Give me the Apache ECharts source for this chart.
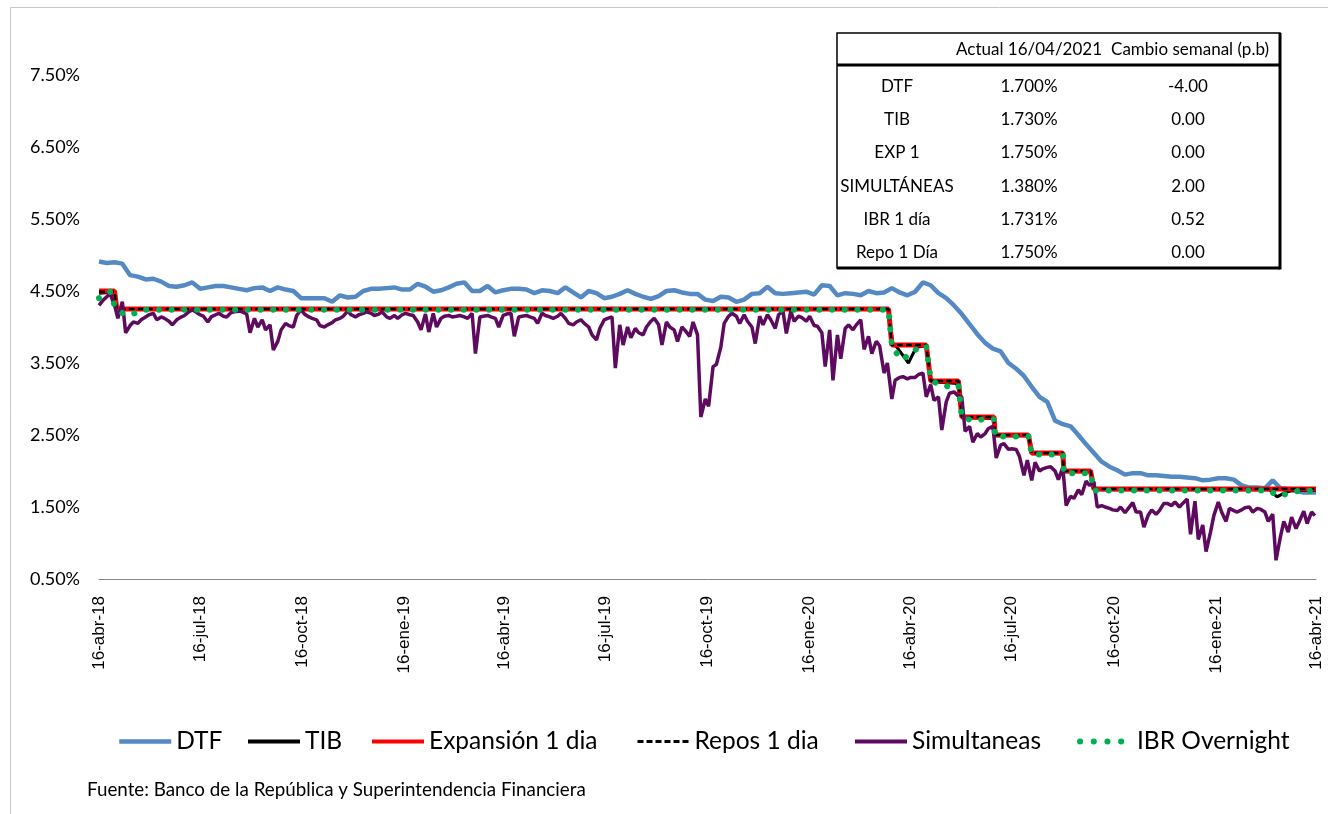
<!DOCTYPE html>
<html><head><meta charset="utf-8">
<script src="https://cdn.jsdelivr.net/npm/echarts@6/dist/echarts.min.js"></script>
<style>html,body{margin:0;padding:0;background:#fff;}#c{width:1328px;height:814px;}</style>
</head><body><div id="c"></div>
<script>
// ---------- DATA ----------
const startDate = '2018-04-16';
const endDate = '2021-04-16';
const xTickDates = ['2018-04-16','2018-07-16','2018-10-16','2019-01-16','2019-04-16','2019-07-16','2019-10-16','2020-01-16','2020-04-16','2020-07-16','2020-10-16','2021-01-16','2021-04-16'];
const monthNames = ['ene','feb','mar','abr','may','jun','jul','ago','sep','oct','nov','dic'];
const seriesNames = ['DTF','TIB','Expansión 1 dia','Repos 1 dia','Simultaneas','IBR Overnight'];

// DTF: weekly (Mondays from 2018-04-16), last value = 2021-04-16
const dtfValues = [4.91,4.89,4.90,4.88,4.72,4.70,4.66,4.67,4.63,4.57,
 4.56,4.58,4.62,4.53,4.55,4.57,4.57,4.55,4.53,4.51,
 4.54,4.55,4.50,4.55,4.52,4.50,4.40,4.40,4.40,4.40,
 4.35,4.44,4.41,4.42,4.50,4.53,4.53,4.54,4.55,4.52,
 4.52,4.60,4.56,4.49,4.51,4.55,4.60,4.62,4.50,4.50,
 4.57,4.48,4.51,4.53,4.53,4.52,4.47,4.51,4.50,4.47,
 4.55,4.48,4.41,4.50,4.47,4.40,4.42,4.46,4.51,4.46,
 4.42,4.39,4.43,4.50,4.51,4.48,4.46,4.46,4.38,4.36,
 4.42,4.41,4.35,4.38,4.46,4.47,4.56,4.47,4.46,4.47,
 4.48,4.49,4.45,4.58,4.57,4.44,4.47,4.46,4.44,4.50,
 4.47,4.48,4.54,4.48,4.44,4.49,4.62,4.58,4.47,4.40,
 4.30,4.18,4.04,3.90,3.78,3.70,3.66,3.50,3.42,3.32,
 3.17,3.03,2.96,2.70,2.65,2.62,2.50,2.37,2.25,2.13,
 2.06,2.01,1.95,1.97,1.97,1.94,1.94,1.93,1.92,1.92,
 1.91,1.90,1.87,1.88,1.90,1.90,1.88,1.80,1.77,1.77,
 1.76,1.87,1.76,1.75,1.72,1.70,1.70,1.70];

// Simultaneas: twice a week (Monday and Thursday)
const simValues = [4.30,4.36,4.42,4.46,4.30,4.12,4.35,3.92,4.02,4.07,
 4.05,4.10,4.14,4.17,4.19,4.10,4.14,4.12,4.08,4.03,
 4.10,4.13,4.16,4.20,4.24,4.21,4.17,4.15,4.07,4.14,
 4.17,4.19,4.15,4.14,4.20,4.21,4.22,4.21,4.18,3.92,
 4.12,4.00,4.10,3.96,4.03,3.68,3.80,3.96,4.05,4.02,
 4.00,4.16,4.24,4.18,4.14,4.12,4.10,4.02,4.00,4.03,
 4.06,4.10,4.12,4.15,4.22,4.17,4.14,4.17,4.19,4.21,
 4.19,4.16,4.18,4.21,4.14,4.12,4.16,4.12,4.17,4.19,
 4.17,4.16,4.07,3.96,4.18,3.93,4.19,4.00,4.12,4.15,
 4.16,4.14,4.15,4.16,4.14,4.12,4.19,3.63,4.14,4.15,
 4.16,4.14,4.12,4.00,4.16,4.18,4.19,3.87,4.14,4.15,
 4.16,4.14,4.12,4.05,4.19,4.16,4.14,4.12,4.15,4.19,
 4.12,4.05,4.03,4.07,4.10,4.05,4.00,3.89,3.82,3.98,
 4.10,4.12,4.14,3.43,4.03,3.75,4.00,3.85,3.98,3.92,
 3.89,4.00,4.08,4.12,4.03,3.75,4.07,4.00,3.96,3.80,
 4.00,3.95,3.87,4.07,3.89,2.75,3.00,2.90,3.45,3.48,
 3.72,4.05,4.15,4.19,4.15,4.05,4.17,4.08,4.00,3.77,
 4.15,4.03,4.17,4.10,3.98,4.17,4.22,3.91,4.22,4.08,
 4.15,4.13,4.08,4.15,4.02,4.01,3.92,3.45,3.96,3.26,
 3.89,3.56,3.98,4.03,3.96,4.03,4.10,3.69,3.87,3.63,
 3.80,3.74,3.36,3.50,3.00,3.26,3.30,3.31,3.28,3.30,
 3.30,3.34,3.36,3.03,3.20,2.98,3.03,2.57,2.96,3.08,
 3.10,3.05,3.03,2.55,2.62,2.40,2.52,2.47,2.52,2.59,
 2.62,2.18,2.36,2.38,2.30,2.31,2.30,2.20,1.94,2.15,
 1.87,2.12,2.00,2.03,2.05,2.06,2.00,1.88,2.05,1.52,
 1.65,1.62,1.74,1.67,1.86,1.80,1.85,1.50,1.52,1.50,
 1.48,1.46,1.45,1.50,1.42,1.48,1.56,1.43,1.43,1.22,
 1.39,1.46,1.40,1.45,1.55,1.55,1.52,1.57,1.50,1.55,
 1.61,1.12,1.58,1.05,1.25,0.88,1.15,1.38,1.57,1.43,
 1.30,1.48,1.45,1.43,1.46,1.49,1.50,1.43,1.48,1.47,
 1.43,1.30,1.40,0.76,1.09,1.30,1.15,1.36,1.20,1.30,
 1.44,1.27,1.43,1.38];

// TIB: change points
const tibDates = ['2018-04-16','2018-04-26','2018-05-03','2020-03-27','2020-03-31','2020-04-03','2020-04-14','2020-04-21','2020-04-30','2020-05-04','2020-05-25','2020-05-29','2020-06-01','2020-06-30','2020-07-01','2020-07-31','2020-08-03','2020-08-31','2020-09-01','2020-09-25','2020-09-28','2021-03-05','2021-03-12','2021-03-19','2021-03-26','2021-04-16'];
const tibValues = [4.47,4.48,4.25,4.25,3.75,3.73,3.50,3.72,3.74,3.24,3.22,3.20,2.74,2.73,2.49,2.49,2.24,2.24,1.99,1.99,1.74,1.74,1.64,1.70,1.73,1.73];

// Expansión 1 dia: change points
const expDates = ['2018-04-16','2018-04-30','2018-05-02','2020-03-27','2020-03-30','2020-04-30','2020-05-04','2020-05-29','2020-06-01','2020-06-30','2020-07-01','2020-07-31','2020-08-03','2020-08-31','2020-09-01','2020-09-25','2020-09-28','2021-04-16'];
const expValues = [4.50,4.50,4.25,4.25,3.75,3.75,3.25,3.25,2.75,2.75,2.50,2.50,2.25,2.25,2.00,2.00,1.75,1.75];

// Repos 1 dia: change points
const repoDates = ['2018-04-16','2018-04-30','2018-05-02','2020-03-27','2020-03-30','2020-04-30','2020-05-04','2020-05-29','2020-06-01','2020-06-30','2020-07-01','2020-07-31','2020-08-03','2020-08-31','2020-09-01','2020-09-25','2020-09-28','2021-04-16'];
const repoValues = [4.49,4.49,4.25,4.25,3.75,3.75,3.25,3.25,2.75,2.75,2.50,2.50,2.25,2.25,2.00,2.00,1.75,1.75];

// IBR Overnight: change points
const ibrDates = ['2018-04-16','2018-04-26','2018-04-30','2018-05-08','2018-05-15','2018-05-25','2020-03-27','2020-03-30','2020-04-02','2020-04-07','2020-04-10','2020-04-14','2020-04-21','2020-04-27','2020-04-30','2020-05-04','2020-05-12','2020-05-22','2020-05-29','2020-06-01','2020-06-11','2020-06-22','2020-06-30','2020-07-01','2020-07-31','2020-08-03','2020-08-31','2020-09-01','2020-09-25','2020-09-28','2021-03-05','2021-03-12','2021-03-22','2021-03-30','2021-04-16'];
const ibrValues = [4.40,4.49,4.30,4.18,4.17,4.24,4.24,3.75,3.66,3.57,3.55,3.63,3.69,3.73,3.74,3.27,3.19,3.17,3.19,2.75,2.70,2.72,2.72,2.48,2.48,2.23,2.23,1.97,1.97,1.73,1.73,1.66,1.68,1.72,1.73];

// Table
const tableHeader = ['', 'Actual 16/04/2021', 'Cambio semanal (p.b)'];
const tableRows = ['DTF','TIB','EXP 1','SIMULTÁNEAS','IBR 1 día','Repo 1 Día'];
const tableActual = ['1.700%','1.730%','1.750%','1.380%','1.731%','1.750%'];
const tableChange = ['-4.00','0.00','0.00','2.00','0.52','0.00'];
const sourceNote = 'Fuente: Banco de la República y Superintendencia Financiera';

// ---------- BUILD ----------
function ts(s){const p=s.split('-').map(Number);return new Date(p[0],p[1]-1,p[2]).getTime();}
function tsAdd(s,n){const p=s.split('-').map(Number);return new Date(p[0],p[1]-1,p[2]+n).getTime();}
const dtfData = dtfValues.map((v,i)=>[i<dtfValues.length-1?tsAdd(startDate,7*i):ts(endDate), v]);
const simData = simValues.map((v,j)=>[tsAdd(startDate,7*Math.floor(j/2)+(j%2)*3), v]);
const pairs = (d,v)=>d.map((s,i)=>[ts(s), v[i]]);

const FONT = 'Lato, "Open Sans", sans-serif';
const colors = {dtf:'#5589C4', tib:'#000000', exp:'#FF0000', repo:'#000000', sim:'#5E0A5E', ibr:'#00B050'};

const series = [
 {name:seriesNames[0], type:'line', data:dtfData, symbol:'none', color:colors.dtf, lineStyle:{color:colors.dtf,width:4.5}, z:2},
 {name:seriesNames[1], type:'line', data:pairs(tibDates,tibValues), symbol:'none', color:colors.tib, lineStyle:{color:colors.tib,width:3}, z:3},
 {name:seriesNames[2], type:'line', data:pairs(expDates,expValues), symbol:'none', color:colors.exp, lineStyle:{color:colors.exp,width:5}, z:4},
 {name:seriesNames[3], type:'line', data:pairs(repoDates,repoValues), symbol:'none', color:colors.repo, lineStyle:{color:colors.repo,width:2.5,type:[6,3]}, z:5},
 {name:seriesNames[4], type:'line', data:simData, symbol:'none', color:colors.sim, lineStyle:{color:colors.sim,width:3.5}, z:6},
 {name:seriesNames[5], type:'line', data:pairs(ibrDates,ibrValues), symbol:'none', color:colors.ibr, lineStyle:{color:colors.ibr,width:6,type:[0.1,12.6],cap:'round'}, z:7}
];

const legendLefts = [117,246,370,636,853,1077];
const legendLine = [
 {width:4.5},{width:4},{width:4},{width:3,type:[6,3]},{width:4},{width:6,type:[0.1,13.6],cap:'round'}
];
const legends = seriesNames.map((n,i)=>({
 data:[n], left:legendLefts[i], top:729, itemWidth:52, itemHeight:14, padding:0,
 itemStyle:{opacity:0}, lineStyle:legendLine[i],
 textStyle:{fontFamily:FONT, fontSize:24.5, color:'#000'}, selectedMode:false
}));

// table graphics
const T = {x1:837, y1:33, x2:1280, y2:268, head:65};
const rowY = [87,120,153,186.5,219.5,252.5];
const colX = [897,1029,1188];
const g = [];
g.push({type:'rect', shape:{x:10.5,y:7.5,width:1340,height:830}, style:{fill:null, stroke:'#C8C8C8', lineWidth:1}, silent:true});
g.push({type:'rect', shape:{x:T.x1,y:T.y1,width:T.x2-T.x1,height:T.y2-T.y1}, style:{fill:'#fff', stroke:'#000', lineWidth:1.5}, z:10});
g.push({type:'line', shape:{x1:T.x2,y1:T.y1,x2:T.x2,y2:T.y2+1.5}, style:{stroke:'#000', lineWidth:3}, z:11});
g.push({type:'line', shape:{x1:T.x1,y1:T.y2,x2:T.x2,y2:T.y2}, style:{stroke:'#000', lineWidth:3}, z:11});
g.push({type:'line', shape:{x1:T.x1,y1:T.head,x2:T.x2,y2:T.head}, style:{stroke:'#000', lineWidth:3}, z:11});
const txt = (t,x,y)=>({type:'text', x:x, y:y, z:12, style:{text:t, fill:'#000', fontFamily:FONT, fontSize:17, align:'center', verticalAlign:'middle'}});
g.push(txt(tableHeader[1], colX[1], 50));
g.push(txt(tableHeader[2], 1190, 50));
tableRows.forEach((r,i)=>{
 g.push(txt(r, colX[0], rowY[i]));
 g.push(txt(tableActual[i], colX[1], rowY[i]));
 g.push(txt(tableChange[i], colX[2], rowY[i]));
});
g.push({type:'text', x:87, y:790, style:{text:sourceNote, fill:'#000', fontFamily:FONT, fontSize:18.8, align:'left', verticalAlign:'middle'}});

const fmtDate = v=>{const d=new Date(v);return d.getDate()+'-'+monthNames[d.getMonth()]+'-'+String(d.getFullYear()).slice(2);};

const chart = echarts.init(document.getElementById('c'), null, {renderer:'canvas'});
chart.setOption({
 animation:false,
 backgroundColor:'#fff',
 grid:{left:99, right:12, top:75, bottom:235},
 xAxis:{type:'value', min:ts(startDate), max:ts(endDate), scale:true,
   axisLine:{show:true, lineStyle:{color:'#868686', width:1}},
   axisTick:{show:false}, splitLine:{show:false},
   axisLabel:{customValues:xTickDates.map(ts), formatter:fmtDate, rotate:90, margin:17,
     fontFamily:'"Liberation Sans", Arial, sans-serif', fontSize:17, color:'#000', hideOverlap:false,
     showMinLabel:true, showMaxLabel:true}},
 yAxis:{type:'value', min:0.5, max:7.5, interval:1,
   axisLine:{show:false}, axisTick:{show:false}, splitLine:{show:false},
   axisLabel:{formatter:v=>v.toFixed(2)+'%', fontFamily:FONT, fontSize:18, color:'#000', margin:19}},
 legend:legends,
 series:series,
 graphic:g
});
</script></body></html>
